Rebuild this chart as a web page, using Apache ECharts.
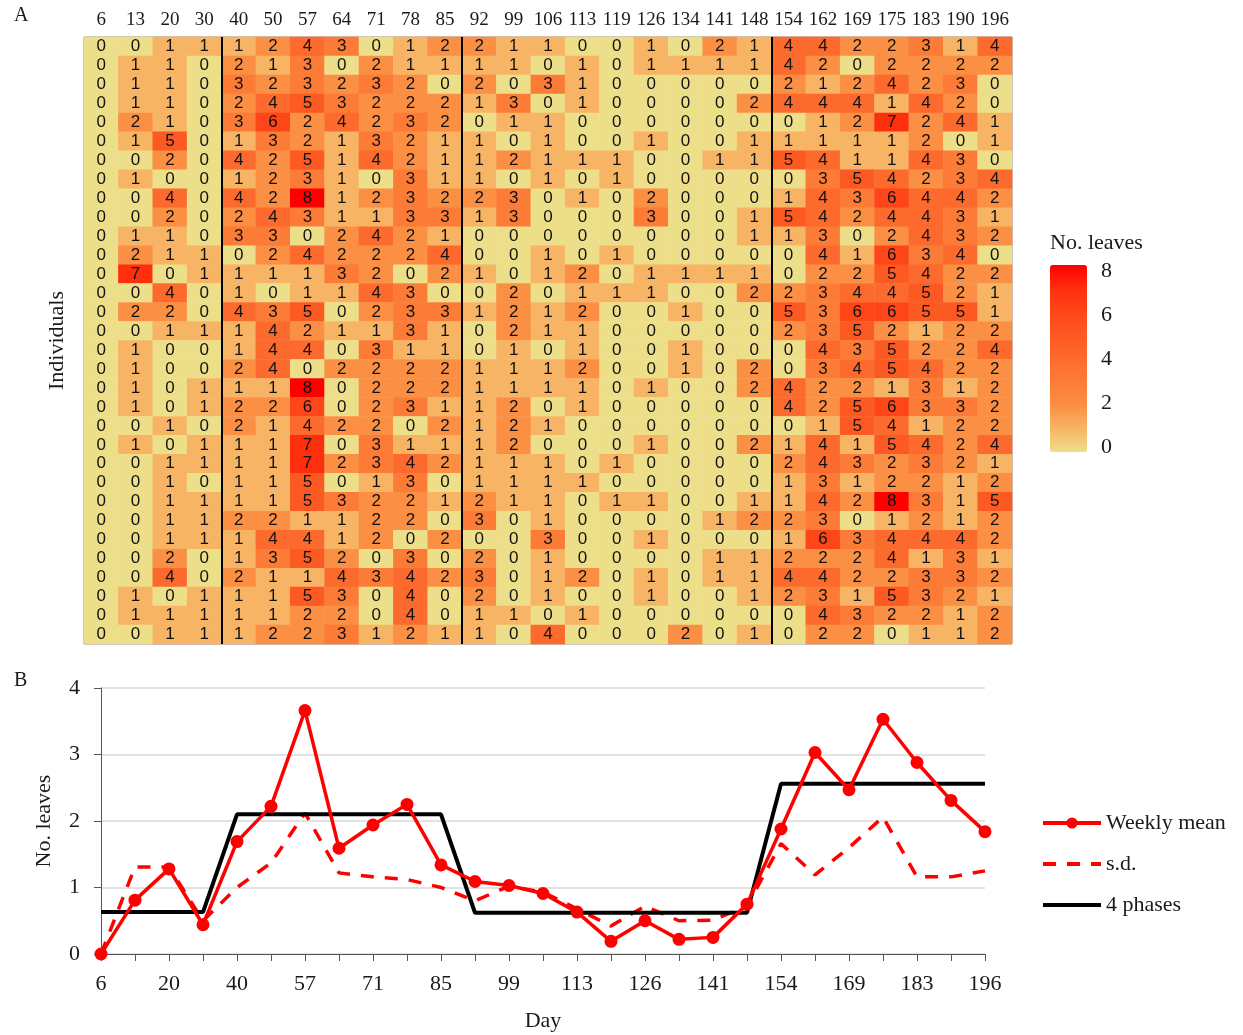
<!DOCTYPE html>
<html>
<head>
<meta charset="utf-8">
<script src="https://cdn.jsdelivr.net/npm/echarts@6/dist/echarts.min.js"></script>
<style>
  html, body { margin: 0; padding: 0; background: #fff; }
  #chart { width: 1243px; height: 1035px; }
</style>
</head>
<body>
<div id="chart"></div>
<script>
// sampling days (columns of panel A, x categories of panel B)
const days = [6, 13, 20, 30, 40, 50, 57, 64, 71, 78, 85, 92, 99, 106, 113, 119, 126, 134, 141, 148, 154, 162, 169, 175, 183, 190, 196];

// number of leaves per individual (rows) and day (columns)
const leafCounts = [
  [0,0,1,1, 1,2,4,3,0,1,2, 2,1,1,0,0,1,0,2,1, 4,4,2,2,3,1,4],
  [0,1,1,0, 2,1,3,0,2,1,1, 1,1,0,1,0,1,1,1,1, 4,2,0,2,2,2,2],
  [0,1,1,0, 3,2,3,2,3,2,0, 2,0,3,1,0,0,0,0,0, 2,1,2,4,2,3,0],
  [0,1,1,0, 2,4,5,3,2,2,2, 1,3,0,1,0,0,0,0,2, 4,4,4,1,4,2,0],
  [0,2,1,0, 3,6,2,4,2,3,2, 0,1,1,0,0,0,0,0,0, 0,1,2,7,2,4,1],
  [0,1,5,0, 1,3,2,1,3,2,1, 1,0,1,0,0,1,0,0,1, 1,1,1,1,2,0,1],
  [0,0,2,0, 4,2,5,1,4,2,1, 1,2,1,1,1,0,0,1,1, 5,4,1,1,4,3,0],
  [0,1,0,0, 1,2,3,1,0,3,1, 1,0,1,0,1,0,0,0,0, 0,3,5,4,2,3,4],
  [0,0,4,0, 4,2,8,1,2,3,2, 2,3,0,1,0,2,0,0,0, 1,4,3,6,4,4,2],
  [0,0,2,0, 2,4,3,1,1,3,3, 1,3,0,0,0,3,0,0,1, 5,4,2,4,4,3,1],
  [0,1,1,0, 3,3,0,2,4,2,1, 0,0,0,0,0,0,0,0,1, 1,3,0,2,4,3,2],
  [0,2,1,1, 0,2,4,2,2,2,4, 0,0,1,0,1,0,0,0,0, 0,4,1,6,3,4,0],
  [0,7,0,1, 1,1,1,3,2,0,2, 1,0,1,2,0,1,1,1,1, 0,2,2,5,4,2,2],
  [0,0,4,0, 1,0,1,1,4,3,0, 0,2,0,1,1,1,0,0,2, 2,3,4,4,5,2,1],
  [0,2,2,0, 4,3,5,0,2,3,3, 1,2,1,2,0,0,1,0,0, 5,3,6,6,5,5,1],
  [0,0,1,1, 1,4,2,1,1,3,1, 0,2,1,1,0,0,0,0,0, 2,3,5,2,1,2,2],
  [0,1,0,0, 1,4,4,0,3,1,1, 0,1,0,1,0,0,1,0,0, 0,4,3,5,2,2,4],
  [0,1,0,0, 2,4,0,2,2,2,2, 1,1,1,2,0,0,1,0,2, 0,3,4,5,4,2,2],
  [0,1,0,1, 1,1,8,0,2,2,2, 1,1,1,1,0,1,0,0,2, 4,2,2,1,3,1,2],
  [0,1,0,1, 2,2,6,0,2,3,1, 1,2,0,1,0,0,0,0,0, 4,2,5,6,3,3,2],
  [0,0,1,0, 2,1,4,2,2,0,2, 1,2,1,0,0,0,0,0,0, 0,1,5,4,1,2,2],
  [0,1,0,1, 1,1,7,0,3,1,1, 1,2,0,0,0,1,0,0,2, 1,4,1,5,4,2,4],
  [0,0,1,1, 1,1,7,2,3,4,2, 1,1,1,0,1,0,0,0,0, 2,4,3,2,3,2,1],
  [0,0,1,0, 1,1,5,0,1,3,0, 1,1,1,1,0,0,0,0,0, 1,3,1,2,2,1,2],
  [0,0,1,1, 1,1,5,3,2,2,1, 2,1,1,0,1,1,0,0,1, 1,4,2,8,3,1,5],
  [0,0,1,1, 2,2,1,1,2,2,0, 3,0,1,0,0,0,0,1,2, 2,3,0,1,2,1,2],
  [0,0,1,1, 1,4,4,1,2,0,2, 0,0,3,0,0,1,0,0,0, 1,6,3,4,4,4,2],
  [0,0,2,0, 1,3,5,2,0,3,0, 2,0,1,0,0,0,0,1,1, 2,2,2,4,1,3,1],
  [0,0,4,0, 2,1,1,4,3,4,2, 3,0,1,2,0,1,0,1,1, 4,4,2,2,3,3,2],
  [0,1,0,1, 1,1,5,3,0,4,0, 2,0,1,0,0,1,0,0,1, 2,3,1,5,3,2,1],
  [0,1,1,1, 1,1,2,2,0,4,0, 1,1,0,1,0,0,0,0,0, 0,4,3,2,2,1,2],
  [0,0,1,1, 1,2,2,3,1,2,1, 1,0,4,0,0,0,2,0,1, 0,2,2,0,1,1,2]
];

// phase boundaries (number of columns before each break)
const phaseBreaks = [4, 11, 20];

// panel B
const weeklyMean = [0, 0.81, 1.28, 0.44, 1.69, 2.22, 3.66, 1.59, 1.94, 2.25, 1.34, 1.09, 1.03, 0.91, 0.63, 0.19, 0.5, 0.22, 0.25, 0.75, 1.88, 3.03, 2.47, 3.53, 2.88, 2.31, 1.84];
const weeklySd = [0, 1.31, 1.31, 0.5, 1.0, 1.37, 2.12, 1.22, 1.16, 1.12, 1.0, 0.8, 1.02, 0.93, 0.68, 0.42, 0.72, 0.5, 0.51, 0.72, 1.66, 1.19, 1.6, 2.06, 1.16, 1.16, 1.25];
const phaseMeans = [0.63, 0.63, 0.63, 0.63, 2.1, 2.1, 2.1, 2.1, 2.1, 2.1, 2.1, 0.62, 0.62, 0.62, 0.62, 0.62, 0.62, 0.62, 0.62, 0.62, 2.56, 2.56, 2.56, 2.56, 2.56, 2.56, 2.56];

const individuals = leafCounts.map((r, i) => String(i + 1));
const dayLabels = days.map(String);

let heatData = [];
leafCounts.forEach((row, y) => {
    row.forEach((v, x) => {
        heatData.push([x, y, v]);
    });
});

const serif = 'Liberation Serif';
const txt = '#1a1a1a';

let myChart = echarts.init(document.getElementById('chart'));
myChart.setOption({
    animation: false,
    backgroundColor: '#fff',
    graphic: [
        { type: 'text', left: 14, top: 6, style: { text: 'A', font: '20px "Liberation Serif"', fill: txt } },
        { type: 'text', left: 14, top: 671, style: { text: 'B', font: '20px "Liberation Serif"', fill: txt } },
        { type: 'text', left: 1050, top: 232, style: { text: 'No. leaves', font: '22px "Liberation Serif"', fill: txt } }
    ],
    grid: [
        { left: 84, top: 37, width: 928, height: 607, show: true, borderColor: '#8a8a8a', borderWidth: 1, backgroundColor: 'transparent' },
        { left: 101, top: 688, width: 884, height: 266 },
        { left: 1050, top: 271, width: 37, height: 176 }
    ],
    xAxis: [
        {
            type: 'category', gridIndex: 0, data: dayLabels, position: 'top',
            axisLine: { show: false },
            axisTick: { alignWithLabel: true, length: 5, lineStyle: { color: '#333' } },
            axisLabel: { interval: 0, fontFamily: serif, fontSize: 19, color: txt, margin: 7 }
        },
        { type: 'value', gridIndex: 0, min: 0, max: days.length, show: false },
        {
            type: 'category', gridIndex: 1, data: dayLabels, boundaryGap: false,
            axisLine: { lineStyle: { color: '#555', width: 1 } },
            axisTick: { interval: 0, length: 7, lineStyle: { color: '#555' } },
            axisLabel: { interval: 1, fontFamily: serif, fontSize: 22, color: txt, margin: 19 },
            name: 'Day', nameLocation: 'middle', nameGap: 56,
            nameTextStyle: { fontFamily: serif, fontSize: 22, color: txt }
        },
        { type: 'value', gridIndex: 2, show: false }
    ],
    yAxis: [
        {
            type: 'category', gridIndex: 0, data: individuals, inverse: true,
            axisLine: { show: false },
            axisLabel: { show: false },
            axisTick: { alignWithLabel: true, length: 5, lineStyle: { color: '#333' } },
            name: 'Individuals', nameLocation: 'middle', nameGap: 16, nameRotate: 90,
            nameTextStyle: { fontFamily: serif, fontSize: 22, color: txt }
        },
        { type: 'value', gridIndex: 0, min: 0, max: 1, show: false },
        {
            type: 'value', gridIndex: 1, min: 0, max: 4, interval: 1,
            axisLine: { show: true, lineStyle: { color: '#555' } },
            axisTick: { show: true, length: 7, lineStyle: { color: '#555' } },
            splitLine: { lineStyle: { color: '#d9d9d9', width: 1.5 } },
            axisLabel: { fontFamily: serif, fontSize: 22, color: txt, margin: 21 },
            name: 'No. leaves', nameLocation: 'middle', nameGap: 46, nameRotate: 90,
            nameTextStyle: { fontFamily: serif, fontSize: 22, color: txt }
        },
        {
            type: 'value', gridIndex: 2, min: 0, max: 8, interval: 2, position: 'right',
            axisLine: { show: false },
            axisTick: { show: true, inside: true, length: 6, lineStyle: { color: '#fff' } },
            splitLine: { show: false },
            axisLabel: { fontFamily: serif, fontSize: 22, color: txt, margin: 14 }
        },
        {
            type: 'value', gridIndex: 2, min: 0, max: 8, interval: 2, position: 'left',
            axisLine: { show: false },
            axisTick: { show: true, inside: true, length: 6, lineStyle: { color: '#fff' } },
            splitLine: { show: false },
            axisLabel: { show: false }
        }
    ],
    visualMap: {
        type: 'continuous', min: 0, max: 8, seriesIndex: 0,
        calculable: false, showLabel: false, text: null,
        left: 1050, top: 265, itemWidth: 37, itemHeight: 187, padding: 0,
        inRange: {
            color: ['#eddf8a', '#f7b465', '#fb8f44', '#fc7c37', '#fd6a2d', '#fd5923', '#fe4618', '#ff2e0d', '#ff0000']
        }
    },
    legend: {
        orient: 'vertical', left: 1036, top: 807, itemWidth: 58, itemHeight: 14, itemGap: 19,
        textStyle: { fontFamily: serif, fontSize: 22, color: txt },
        lineStyle: { width: 4 },
        data: [
            { name: 'Weekly mean' },
            { name: 's.d.', itemStyle: { opacity: 0 } },
            { name: '4 phases', itemStyle: { opacity: 0 } }
        ]
    },
    series: [
        {
            type: 'heatmap', xAxisIndex: 0, yAxisIndex: 0, data: heatData,
            label: { show: true, fontFamily: 'Liberation Sans', fontSize: 17, color: '#111' },
            itemStyle: { borderWidth: 0 },
            emphasis: { disabled: true }
        },
        {
            type: 'line', xAxisIndex: 1, yAxisIndex: 1, data: [], silent: true,
            markLine: {
                symbol: 'none', silent: true, label: { show: false },
                lineStyle: { color: '#000', width: 2, type: 'solid' },
                data: phaseBreaks.map(b => ({ xAxis: b }))
            }
        },
        {
            name: 'Weekly mean', type: 'line', xAxisIndex: 2, yAxisIndex: 2, data: weeklyMean,
            symbol: 'circle', symbolSize: 13, z: 5,
            lineStyle: { color: '#ff0000', width: 3.5 },
            itemStyle: { color: '#ff0000' }
        },
        {
            name: 's.d.', type: 'line', xAxisIndex: 2, yAxisIndex: 2, data: weeklySd,
            symbol: 'none', z: 3,
            lineStyle: { color: '#ff0000', width: 3.5, type: [13, 11] },
            itemStyle: { color: '#ff0000' }
        },
        {
            name: '4 phases', type: 'line', xAxisIndex: 2, yAxisIndex: 2, data: phaseMeans,
            symbol: 'none', z: 4,
            lineStyle: { color: '#000', width: 4 },
            itemStyle: { color: '#000' }
        }
    ]
});
</script>
</body>
</html>
